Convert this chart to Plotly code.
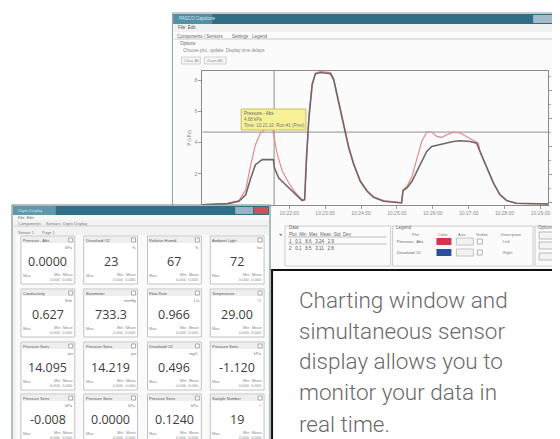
import plotly.graph_objects as go

W, H = 560, 439

# ---------------- data ----------------
# chart: elapsed time (min) and two sensor traces
dark_t = [-0.42, 0.28, 0.60, 0.79, 0.93, 1.06, 1.25, 1.56, 1.59, 1.71, 1.85, 2.04, 2.22, 2.36, 2.43,
          2.48, 2.55, 2.64, 2.73, 2.87, 3.15, 3.24, 3.33, 3.43, 3.52, 3.66, 3.80, 3.98, 4.17, 4.35,
          4.63, 5.09, 5.13, 5.17, 5.28, 5.42, 5.56, 5.69, 5.83, 5.97, 6.20, 6.39, 6.57, 6.76, 7.04,
          7.22, 7.31, 7.41, 7.55, 7.69, 7.87, 8.06, 8.33, 8.80, 9.21]
dark_v = [0.02, 0.09, 0.24, 0.66, 1.73, 2.59, 2.91, 2.91, 2.37, 1.73, 1.41, 0.98, 0.56, 0.28, 0.34,
          3.01, 5.58, 7.71, 8.42, 8.50, 8.42, 8.03, 7.07, 6.00, 4.94, 3.65, 2.59, 1.52, 0.88, 0.49,
          0.24, 0.13, 0.13, 0.92, 1.09, 1.52, 2.16, 2.80, 3.44, 3.76, 3.87, 3.97, 4.08, 4.12, 4.08,
          3.97, 3.44, 2.91, 2.16, 1.41, 0.66, 0.28, 0.11, 0.06, 0.06]
red_t = [-0.42, 0.28, 0.60, 0.79, 0.93, 1.06, 1.20, 1.34, 1.53, 1.57, 1.67, 1.81, 1.99, 2.18, 2.36,
         2.43, 2.48, 2.55, 2.64, 2.73, 2.87, 3.15, 3.24, 3.33, 3.43, 3.52, 3.66, 3.80, 3.98, 4.17,
         4.35, 4.63, 5.09, 5.13, 5.17, 5.28, 5.42, 5.56, 5.69, 5.83, 5.97, 6.11, 6.25, 6.39, 6.57,
         6.76, 6.94, 7.13, 7.27, 7.31, 7.41, 7.55, 7.69, 7.87, 8.06, 8.33, 8.80, 9.21]
red_v = [0.02, 0.09, 0.28, 0.98, 2.59, 3.87, 4.62, 4.89, 4.94, 4.51, 3.23, 2.16, 1.41, 0.77, 0.34,
         0.34, 3.01, 5.79, 7.82, 8.46, 8.57, 8.50, 8.12, 7.18, 6.11, 5.04, 3.76, 2.63, 1.56, 0.92,
         0.53, 0.28, 0.15, 0.15, 0.98, 1.20, 1.82, 3.01, 4.08, 4.68, 4.68, 4.40, 4.34, 4.51, 4.68,
         4.62, 4.40, 4.19, 3.97, 3.44, 2.91, 2.16, 1.41, 0.66, 0.28, 0.11, 0.06, 0.06]

x_ticks = list(range(10))
x_tick_labels = ["10:20:00", "10:21:00", "10:22:00", "10:23:00", "10:24:00",
                 "10:25:00", "10:26:00", "10:27:00", "10:28:00", "10:29:00"]
y_ticks = [2, 4, 6, 8]
y2_ticks = [0, 1, 2, 3, 4]
y2_tick_labels = ["0", "10", "20", "30", "40"]
cursor_x, cursor_y = 1.58, 4.68

# digits display tiles
sensor_values = ["0.0000", "23", "67", "72",
                 "0.627", "733.3", "0.966", "29.00",
                 "14.095", "14.219", "0.496", "-1.120",
                 "-0.008", "0.0000", "0.1240", "19"]
sensor_names = ["Pressure - Abs", "Dissolved O2", "Relative Humid", "Ambient Light",
                "Conductivity", "Barometer", "Flow Rate", "Temperature",
                "Pressure Sens", "Pressure Sens", "Dissolved O2", "Pressure Sens",
                "Pressure Sens", "Pressure Sens", "Pressure Sens", "Sample Number"]
sensor_units = ["kPa", "%", "%", "lux", "S/m", "mmHg", "L/s", "°C",
                "psi", "psi", "mg/L", "kPa", "kPa", "kPa", "kPa", "#"]

caption_lines = ["Charting window and", "simultaneous sensor", "display allows you to",
                 "monitor your data in", "real time."]

# ---------------- helpers ----------------
shapes, annotations = [], []


def X(px):
    return px / W


def Y(py):
    return 1 - py / H


def rect(x0, y0, x1, y1, fill, line=None, lw=0, layer="above"):
    shapes.append(dict(type="rect", xref="paper", yref="paper",
                       x0=X(x0), x1=X(x1), y0=Y(y1), y1=Y(y0),
                       fillcolor=fill, layer=layer,
                       line=dict(color=line if line else fill, width=lw)))


def hline(x0, x1, y, color, lw=1, layer="above"):
    shapes.append(dict(type="line", xref="paper", yref="paper", x0=X(x0), x1=X(x1),
                       y0=Y(y), y1=Y(y), layer=layer, line=dict(color=color, width=lw)))


def label(px, py, text, size=5, color="#7a7a7a", anchor="left",
          family="Arial, Liberation Sans, sans-serif", angle=0, weight=400):
    annotations.append(dict(xref="paper", yref="paper", x=X(px), y=Y(py), text=text,
                            showarrow=False, xanchor=anchor, yanchor="middle", textangle=angle,
                            borderpad=0, borderwidth=0,
                            font=dict(size=size, color=color, family=family, weight=weight)))


# ---------------- big charting window (behind) ----------------
rect(165, 5, 566, 262, "#fbfbfb", "#8e9ba4", 1, layer="below")
rect(166, 6, 566, 16, "#2e6f86", layer="below")
rect(166, 6, 205, 16, "#5390a5", layer="below")
rect(527, 7, 546, 15, "#a3bcc8", layer="below")
rect(547, 7, 566, 15, "#c97a82", layer="below")
label(172, 11, "PASCO Capstone", 4.5, "#d6e6ee")
rect(166, 16, 566, 24, "#f1f1f1", layer="below")
label(171, 20, "File  Edit", 4.5, "#555")
label(170, 28, "Components / Sensors", 4.5, "#666")
label(225, 28, "Settings", 4.5, "#666")
label(245, 28, "Legend", 4.5, "#666")
hline(167, 566, 31, "#c9c9c9", 1, layer="below")
label(173, 35, "Options", 4.5, "#666")
label(176, 42, "Choose plot, update, Display time delays", 4.5, "#8a8a8a")
rect(174, 49, 193, 56, "#f5f5f5", "#d0d0d0", 1, layer="below")
rect(197, 49, 219, 56, "#f5f5f5", "#d0d0d0", 1, layer="below")
label(177, 52.5, "Clear All", 4, "#999")
label(200, 52.5, "Zoom All", 4, "#999")
label(551, 137, "mg/L", 4, "#888", anchor="center", angle=-90)

# bottom panel of big window
rect(278, 218, 384, 258, "rgba(0,0,0,0)", "#cccccc", 1, layer="below")
label(282, 219, "Data", 4.5, "#666")
label(282, 226, "Plot  Min  Max  Mean  Std  Dev", 4.5, "#666")
hline(281, 380, 229, "#bbbbbb", 1, layer="below")
label(282, 233, "1   0.1   8.6   3.24   2.9", 4.5, "#555")
hline(281, 380, 236, "#bbbbbb", 1, layer="below")
label(282, 240, "2   0.1   8.5   3.11   2.8", 4.5, "#555")
label(271, 226, "◄", 4.5, "#777")
rect(386, 218, 527, 258, "rgba(0,0,0,0)", "#cccccc", 1, layer="below")
label(389, 219, "Legend", 4.5, "#666")
label(405, 226, "Plot", 4, "#777")
label(432, 226, "Color", 4, "#777")
label(452, 226, "Axis", 4, "#777")
label(470, 226, "Visible", 4, "#777")
label(495, 226, "Description", 4, "#777")
label(390, 233.5, "Pressure - Abs", 4, "#666")
label(390, 244.5, "Dissolved O2", 4, "#666")
rect(430, 230, 445, 237, "#d8324c")
rect(430, 241, 445, 248, "#2b4f9c")
rect(450, 230, 467, 237, "#f2f2f2", "#c4c4c4", 1)
rect(450, 241, 467, 248, "#f2f2f2", "#c4c4c4", 1)
rect(471, 231, 476, 236, "#ffffff", "#b0b0b0", 1)
rect(471, 242, 476, 247, "#ffffff", "#b0b0b0", 1)
label(497, 233.5, "Left", 4, "#777")
label(497, 244.5, "Right", 4, "#777")
rect(529, 218, 566, 258, "rgba(0,0,0,0)", "#cccccc", 1, layer="below")
label(532, 219, "Options", 4.5, "#666")
for by in (224, 234, 245):
    rect(533, by, 556, by + 7, "#f3f3f3", "#b9b9b9", 1)

# crosshair
shapes.append(dict(type="line", xref="x", yref="y", x0=cursor_x, x1=cursor_x, y0=0, y1=8.6,
                    layer="below", line=dict(color="#8f8f8f", width=1)))
shapes.append(dict(type="line", xref="x", yref="y", x0=-0.42, x1=9.21, y0=cursor_y, y1=cursor_y,
                    layer="below", line=dict(color="#8f8f8f", width=1)))

# tooltip
rect(234, 101, 299, 122, "#f6f197", "#c7bd6a", 1)
label(237, 106, "Pressure - Abs", 4.5, "#666")
label(237, 111.5, "4.68 kPa", 4.5, "#777")
label(237, 117, "Time: 10:21:10  Run #1 (Prev)", 4.5, "#777")

# ---------------- digits display window (front) ----------------
rect(4, 197, 263, 441, "#f2f2f2", "#6f7f88", 1)
rect(5, 198, 262, 207, "#2f7088")
rect(5, 198, 48, 207, "#5f98ab")
rect(228, 199, 246, 206, "#94b5c4")
rect(247, 199, 261, 206, "#c4535a")
label(10, 202.5, "Digits Display", 4, "#d6e6ee")
rect(5, 207, 262, 212, "#f7f7f7")
label(10, 209.5, "File  Edit", 4, "#666")
label(10, 215.5, "Components", 4, "#777")
label(38, 215.5, "Sensors", 4, "#777")
label(55, 215.5, "Digits Display", 4, "#777")
hline(6, 261, 218, "#cfcfcf", 1)
label(10, 224, "Sensor 1", 4, "#777")
label(34, 224, "Page 1", 4, "#777")
rect(8, 227, 261, 437, "#fafafa")

col_x0 = [13, 76, 140, 203]
row_y0 = [228, 281, 334, 386]
TW, TH = 54, 48
for i, val in enumerate(sensor_values):
    r, c = divmod(i, 4)
    x0, y0 = col_x0[c], row_y0[r]
    rect(x0, y0, x0 + TW, y0 + TH, "#ffffff", "#c2c2c2", 1)
    rect(x0 + 1, y0 + 1, x0 + TW - 1, y0 + 7, "#eeeeee")
    label(x0 + 2, y0 + 4, sensor_names[i], 4, "#555")
    rect(x0 + TW - 6, y0 + 2, x0 + TW - 2, y0 + 6, "#ffffff", "#aaaaaa", 1)
    label(x0 + TW - 2, y0 + 11, sensor_units[i], 4, "#777", anchor="right")
    label(x0 + TW / 2, y0 + 25, val, 12.5, "#3c3c3c", anchor="center",
          family="Open Sans, Noto Sans, sans-serif")
    label(x0 + 2, y0 + 39, "Max", 4, "#888")
    label(x0 + TW - 2, y0 + 38.5, "Min  Mean", 4, "#888", anchor="right")
    label(x0 + TW - 2, y0 + 43, "0.000  0.000", 4, "#888", anchor="right")

# ---------------- caption box (front) ----------------
rect(265, 262, 566, 446, "#ffffff", "#111111", 2)
cap_y = [292, 323, 353, 384, 416]
for txt, cy in zip(caption_lines, cap_y):
    label(292, cy, txt, 22.5, "#6a6a6a", family="Roboto, Liberation Sans Narrow, sans-serif",
          weight=300)

# ---------------- traces ----------------
fig = go.Figure()
fig.add_trace(go.Scatter(x=red_t, y=red_v, mode="lines", line=dict(color="#e58a8e", width=1.2),
                         hoverinfo="skip", showlegend=False))
fig.add_trace(go.Scatter(x=dark_t, y=dark_v, mode="lines", line=dict(color="#736766", width=1.6),
                         hoverinfo="skip", showlegend=False))
fig.add_trace(go.Scatter(x=[None], y=[None], yaxis="y2", hoverinfo="skip", showlegend=False))

axis_font = dict(size=5, color="#8a8a8a", family="Arial, Liberation Sans, sans-serif")
fig.update_layout(
    width=W, height=H, autosize=False,
    margin=dict(l=0, r=0, t=0, b=0),
    paper_bgcolor="#ffffff", plot_bgcolor="#ffffff",
    xaxis=dict(domain=[195 / W, 542 / W], range=[-0.42, 9.21], tickvals=x_ticks,
               ticktext=x_tick_labels, tickfont=axis_font, ticks="outside", ticklen=3,
               tickcolor="#9a9a9a", showline=True, mirror=True, linecolor="#8a8a8a",
               linewidth=1, showgrid=False, zeroline=False, fixedrange=True),
    yaxis=dict(domain=[1 - 197 / H, 1 - 63 / H], range=[0, 8.6], tickvals=y_ticks,
               tickfont=axis_font, ticks="outside", ticklen=3, tickcolor="#9a9a9a",
               showline=True, mirror=True, linecolor="#8a8a8a", linewidth=1,
               showgrid=False, zeroline=False, fixedrange=True,
               title=dict(text="P (kPa)", font=dict(size=5, color="#888"), standoff=2)),
    yaxis2=dict(overlaying="y", side="right", anchor="x", range=[-0.107, 4.68],
                tickvals=y2_ticks, ticktext=y2_tick_labels, tickfont=axis_font,
                ticks="outside", ticklen=3, tickcolor="#9a9a9a",
                minor=dict(ticks="outside", ticklen=2, tickcolor="#aaaaaa", nticks=3),
                showline=True, linecolor="#8a8a8a", showgrid=False, zeroline=False,
                fixedrange=True),
    shapes=shapes, annotations=annotations, hovermode=False,
)

fig.write_html("out.html", config={"displayModeBar": False})
